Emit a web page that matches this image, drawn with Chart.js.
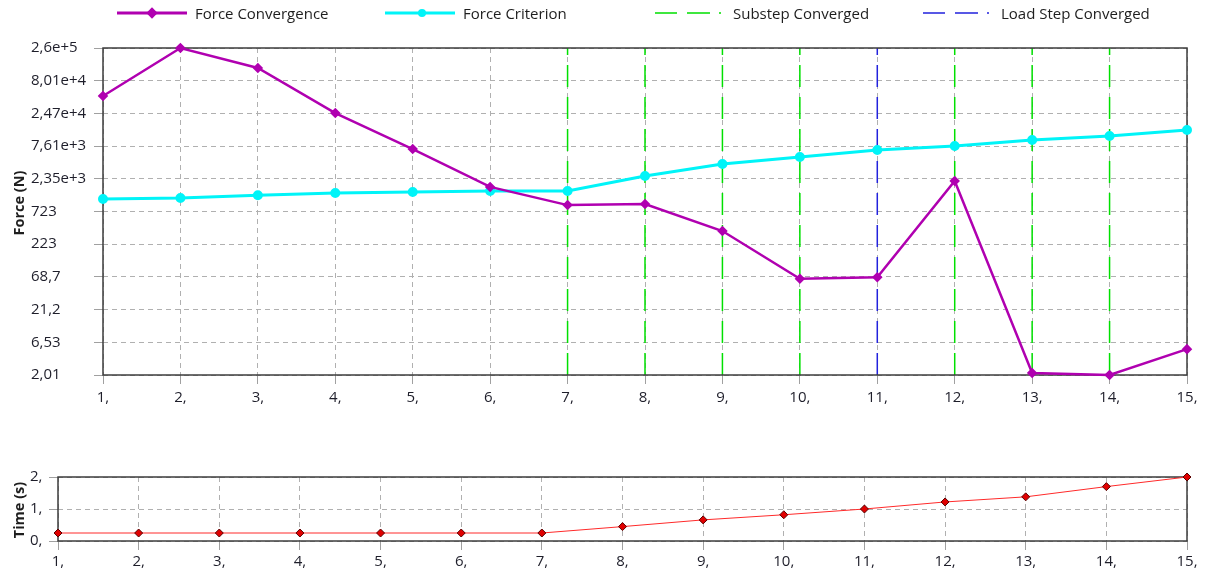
<!DOCTYPE html>
<html>
<head>
<meta charset="utf-8">
<script src="https://cdn.jsdelivr.net/npm/chart.js@4.4.1/dist/chart.umd.min.js"></script>
<style>
body{margin:0;background:#fff;width:1206px;height:571px;position:relative;overflow:hidden;font-family:'Open Sans',sans-serif;color:#1e1e1e}
#forceBox{position:absolute;left:0;top:0;width:1206px;height:415px}
#timeBox{position:absolute;left:0;top:415px;width:1206px;height:156px}
.ytitle{position:absolute;font-weight:bold;font-size:14.5px;white-space:nowrap;transform:translate(-50%,-50%) rotate(-90deg)}
#legend{position:absolute;top:0;left:0;width:1206px;height:28px}
.item{position:absolute;top:3px;height:20px;display:flex;align-items:center;font-size:15px}
.item svg{margin-right:8px}
</style>
</head>
<body>
<div id="forceBox"><canvas id="forceChart"></canvas></div>
<div id="timeBox"><canvas id="timeChart"></canvas></div>
<div id="legend"></div>
<div class="ytitle" style="left:18px;top:203px">Force (N)</div>
<div class="ytitle" style="left:18px;top:510px">Time (s)</div>
<script>
// iterations on the x axis
const iterations = [1, 2, 3, 4, 5, 6, 7, 8, 9, 10, 11, 12, 13, 14, 15];

// force residuals (N)
const forceConvergence = [46200, 260000, 126500, 25000, 6850, 1750, 910, 945, 358, 64, 68, 2170, 2.16, 2.01, 5.1];
const forceCriterion = [1135, 1175, 1300, 1405, 1460, 1510, 1510, 2600, 4000, 5150, 6600, 7650, 9500, 10950, 13600];

// time (s) per iteration
const timeValues = [0.25, 0.25, 0.25, 0.25, 0.25, 0.25, 0.25, 0.45, 0.66, 0.82, 1.0, 1.22, 1.38, 1.7, 2.0];

// iterations where convergence happened
const substepConverged = [7, 8, 9, 10, 12, 13, 14];
const loadStepConverged = [11];

// y tick values and labels
const forceTickValues = [2.01, 6.53, 21.2, 68.7, 223, 723, 2350, 7610, 24700, 80100, 260000];
const forceTickLabels = ['2,01', '6,53', '21,2', '68,7', '223', '723', '2,35e+3', '7,61e+3', '2,47e+4', '8,01e+4', '2,6e+5'];
const timeTickLabels = ['0,', '1,', '2,'];

const magenta = '#b000b0';
const cyan = '#00f4f8';
const green = '#00e000';
const blue = '#2222dd';

Chart.defaults.font.family = "'Open Sans', 'Noto Sans', sans-serif";
Chart.defaults.font.size = 15;
Chart.defaults.color = '#1e1e2a';

// legend (HTML)
const legendItems = [
  {label: 'Force Convergence', left: 117, svg: `<line x1="0" y1="10" x2="70" y2="10" stroke="${magenta}" stroke-width="3"/><rect x="31" y="6" width="8" height="8" fill="${magenta}" transform="rotate(45 35 10)"/>`},
  {label: 'Force Criterion', left: 385, svg: `<line x1="0" y1="10" x2="70" y2="10" stroke="${cyan}" stroke-width="3"/><circle cx="37" cy="10" r="4" fill="${cyan}"/>`},
  {label: 'Substep Converged', left: 655, svg: `<line x1="0" y1="10" x2="70" y2="10" stroke="${green}" stroke-width="1.5" stroke-dasharray="22 10 23 9 2 20"/>`},
  {label: 'Load Step Converged', left: 923, svg: `<line x1="0" y1="10" x2="70" y2="10" stroke="${blue}" stroke-width="1.5" stroke-dasharray="22 10 23 9 2 20"/>`}
];
document.getElementById('legend').innerHTML = legendItems.map(it =>
  `<div class="item" style="left:${it.left}px"><svg width="70" height="20">${it.svg}</svg>${it.label}</div>`).join('');

// frame + convergence markers
const framePlugin = {
  id: 'frame',
  beforeDatasetsDraw(chart, args, opts) {
    const {ctx, chartArea: a, scales: {x}} = chart;
    ctx.save();
    if (opts.lines) {
      ctx.lineWidth = 1.5;
      ctx.setLineDash([22, 10]);
      opts.lines.forEach(l => {
        ctx.strokeStyle = l.color;
        l.at.forEach(n => {
          const px = x.getPixelForValue(iterations.indexOf(n));
          ctx.beginPath();
          ctx.moveTo(px, a.bottom);
          ctx.lineTo(px, a.top);
          ctx.stroke();
        });
      });
    }
    ctx.setLineDash([]);
    ctx.strokeStyle = '#3c3c3c';
    ctx.lineWidth = 1.5;
    ctx.strokeRect(a.left, a.top, a.width, a.height);
    ctx.restore();
  }
};

const gridOpts = {color: '#b0b0b0', tickColor: '#a0a0a0', tickLength: 9, lineWidth: 1};
const borderOpts = {display: false, dash: [5, 4]};

let forceCanvas = document.getElementById('forceChart').getContext('2d');
window.forceChart = new Chart(forceCanvas, {
  type: 'line',
  data: {
    labels: iterations.map(String),
    datasets: [{
      label: 'Force Convergence',
      data: forceConvergence,
      borderColor: magenta,
      backgroundColor: magenta,
      borderWidth: 2.5,
      pointStyle: 'rectRot',
      pointRadius: 3.5,
      clip: false
    }, {
      label: 'Force Criterion',
      data: forceCriterion,
      borderColor: cyan,
      backgroundColor: cyan,
      borderWidth: 3,
      pointStyle: 'circle',
      pointRadius: 3.5,
      clip: false
    }]
  },
  options: {
    responsive: true,
    maintainAspectRatio: false,
    animation: false,
    layout: {padding: {top: 48, left: 31, right: 19, bottom: 0}},
    plugins: {
      legend: {display: false},
      tooltip: {enabled: false},
      frame: {lines: [{at: substepConverged, color: green}, {at: loadStepConverged, color: blue}]}
    },
    scales: {
      x: {
        grid: gridOpts,
        border: borderOpts,
        ticks: {autoSkip: false, maxRotation: 0, padding: 5, callback: (v, i) => iterations[i] + ','},
        afterFit: s => { s.height = 40; }
      },
      y: {
        type: 'logarithmic',
        min: 2.01,
        max: 260000,
        grid: gridOpts,
        border: borderOpts,
        afterBuildTicks: s => { s.ticks = forceTickValues.map(v => ({value: v})); },
        ticks: {autoSkip: false, crossAlign: 'far', callback: (v, i) => forceTickLabels[i]},
        afterFit: s => { s.width = 72; }
      }
    }
  },
  plugins: [framePlugin]
});

let timeCanvas = document.getElementById('timeChart').getContext('2d');
window.timeChart = new Chart(timeCanvas, {
  type: 'line',
  data: {
    labels: iterations.map(String),
    datasets: [{
      label: 'Time',
      data: timeValues,
      borderColor: '#ff2a2a',
      backgroundColor: '#e00000',
      borderWidth: 1,
      pointStyle: 'rectRot',
      pointRadius: 4,
      pointBorderColor: '#5a0000',
      pointBorderWidth: 1,
      clip: false
    }]
  },
  options: {
    responsive: true,
    maintainAspectRatio: false,
    animation: false,
    layout: {padding: {top: 62, left: 30, right: 19, bottom: 0}},
    plugins: {
      legend: {display: false},
      tooltip: {enabled: false},
      frame: {}
    },
    scales: {
      x: {
        grid: gridOpts,
        border: borderOpts,
        ticks: {autoSkip: false, maxRotation: 0, padding: 3, callback: (v, i) => iterations[i] + ','},
        afterFit: s => { s.height = 30; }
      },
      y: {
        min: 0,
        max: 2,
        grid: gridOpts,
        border: borderOpts,
        ticks: {stepSize: 1, crossAlign: 'far', callback: (v, i) => timeTickLabels[i]},
        afterFit: s => { s.width = 28; }
      }
    }
  },
  plugins: [framePlugin]
});
</script>
</body>
</html>
